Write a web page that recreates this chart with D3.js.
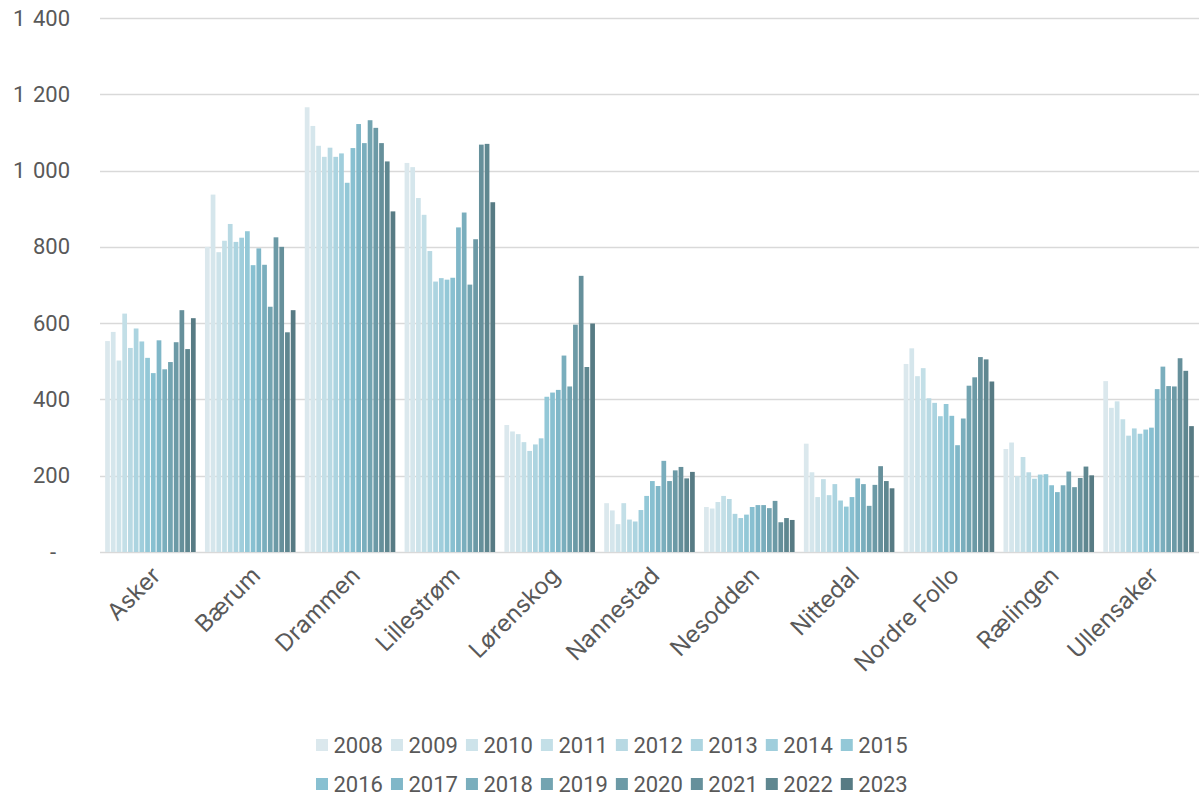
<!DOCTYPE html>
<html>
<head>
<meta charset="utf-8">
<script src="https://cdn.jsdelivr.net/npm/d3@7"></script>
<style>
  html, body { margin: 0; padding: 0; background: #ffffff; }
  svg { display: block; }
  text { font-family: "Roboto", "Liberation Sans", sans-serif; fill: #595959; font-size: 22px; }
</style>
</head>
<body>
<svg id="chart" width="1199" height="798"></svg>
<script>
// Municipalities along the x axis
const categories = ["Asker", "Bærum", "Drammen", "Lillestrøm", "Lørenskog", "Nannestad",
  "Nesodden", "Nittedal", "Nordre Follo", "Rælingen", "Ullensaker"];

// One series per year
const years = ["2008", "2009", "2010", "2011", "2012", "2013", "2014", "2015",
  "2016", "2017", "2018", "2019", "2020", "2021", "2022", "2023"];

// Values per municipality, in year order 2008–2023
const asker       = [553, 577, 502, 625, 535, 586, 552, 509, 469, 555, 479, 498, 550, 634, 532, 613];
const baerum      = [800, 937, 786, 816, 860, 813, 824, 841, 752, 796, 753, 643, 825, 800, 576, 634];
const drammen     = [1166, 1117, 1065, 1036, 1060, 1036, 1045, 968, 1059, 1122, 1072, 1132, 1112, 1072, 1024, 893];
const lillestrom  = [1020, 1009, 928, 884, 789, 709, 718, 714, 719, 851, 890, 701, 820, 1068, 1070, 917];
const lorenskog   = [333, 316, 309, 288, 265, 282, 298, 407, 418, 425, 515, 434, 596, 724, 485, 599];
const nannestad   = [128, 109, 73, 128, 85, 80, 110, 147, 186, 173, 239, 186, 214, 223, 193, 210];
const nesodden    = [118, 114, 131, 147, 139, 100, 89, 98, 118, 123, 123, 115, 134, 78, 89, 84];
const nittedal    = [284, 209, 144, 191, 149, 178, 135, 119, 144, 193, 178, 121, 176, 225, 186, 167];
const nordreFollo = [493, 534, 461, 482, 403, 391, 356, 388, 357, 280, 350, 436, 458, 511, 505, 447];
const raelingen   = [270, 287, 199, 249, 209, 192, 203, 204, 175, 157, 175, 211, 170, 194, 224, 201];
const ullensaker  = [448, 378, 395, 348, 305, 324, 310, 321, 326, 427, 486, 435, 434, 508, 475, 330];

const seriesByCategory = [asker, baerum, drammen, lillestrom, lorenskog, nannestad,
  nesodden, nittedal, nordreFollo, raelingen, ullensaker];

// Y axis ticks
const yTicks = [0, 200, 400, 600, 800, 1000, 1200, 1400];

// Light-to-dark teal ramp, one shade per year
const colors = ["#dbe8ed", "#d5e6ec", "#cde3ea", "#c3dfe7", "#b8d9e3", "#acd4e0", "#a0cedc", "#93c8d7",
  "#88c0d1", "#80b7c8", "#7aaebd", "#73a4b1", "#6c9aa6", "#66909b", "#5f8790", "#577b84"];

const svg = d3.select("#chart");
const margin = { left: 101, right: 1199, top: 18, bottom: 552 };

const x0 = d3.scaleBand()
  .domain(categories)
  .range([margin.left, margin.right])
  .paddingInner(0.083)
  .paddingOuter(0.0415);

const x1 = d3.scaleBand()
  .domain(years)
  .range([0, x0.bandwidth()]);

const y = d3.scaleLinear()
  .domain([0, 1400])
  .range([margin.bottom, margin.top]);

const color = d3.scaleOrdinal().domain(years).range(colors);

// Horizontal gridlines
svg.append("g")
  .selectAll("line")
  .data(yTicks)
  .join("line")
  .attr("x1", margin.left - 1)
  .attr("x2", margin.right)
  .attr("y1", d => Math.round(y(d)) + 0.5)
  .attr("y2", d => Math.round(y(d)) + 0.5)
  .attr("stroke", "#d9d9d9")
  .attr("stroke-width", 1.5);

// Y axis labels: spaced thousands separator, dash for zero
const fmt = d => d === 0 ? "-" : d3.format(",")(d).replace(/,/g, "\u2004");
const yAxis = d3.axisLeft(y).tickValues(yTicks).tickFormat(fmt).tickSize(0).tickPadding(0);
const yg = svg.append("g")
  .attr("transform", "translate(70,0)")
  .call(yAxis);
yg.select(".domain").remove();
yg.selectAll("text")
  .style("font-size", "22px")
  .style("font-family", "Roboto, sans-serif")
  .attr("fill", "#595959")
  .attr("dx", d => d === 0 ? -14 : 0);

// Bars
const groups = svg.append("g")
  .selectAll("g")
  .data(categories.map((c, i) => ({ c, vals: seriesByCategory[i] })))
  .join("g")
  .attr("transform", d => `translate(${x0(d.c)},0)`);

groups.selectAll("rect")
  .data(d => d.vals.map((v, j) => ({ year: years[j], v })))
  .join("rect")
  .attr("x", d => x1(d.year))
  .attr("width", x1.bandwidth() - 1)
  .attr("y", d => y(d.v))
  .attr("height", d => y(0) - y(d.v))
  .attr("fill", d => color(d.year));

// Category labels, rotated
const xg = svg.append("g");
xg.selectAll("text")
  .data(categories)
  .join("text")
  .attr("transform", d => `translate(${x0(d) + x0.bandwidth() / 2 + 11},577) rotate(-45)`)
  .attr("text-anchor", "end")
  .style("font-family", "Inter, sans-serif")
  .style("font-size", "23.5px")
  .text(d => d);

// Legend, two rows
const legendRows = [years.slice(0, 8), years.slice(8)];
const legend = svg.append("g");
legendRows.forEach((row, r) => {
  let cx = 316;
  const yy = r === 0 ? 745 : 784;
  row.forEach(yr => {
    const g = legend.append("g").attr("transform", `translate(${cx},${yy})`);
    g.append("rect").attr("x", 0).attr("y", -6).attr("width", 12).attr("height", 12).attr("fill", color(yr));
    const t = g.append("text").attr("x", 17.5).attr("y", 7.5).text(yr);
    const w = t.node().getComputedTextLength();
    cx += 17.5 + w + 8;
  });
});
</script>
</body>
</html>
